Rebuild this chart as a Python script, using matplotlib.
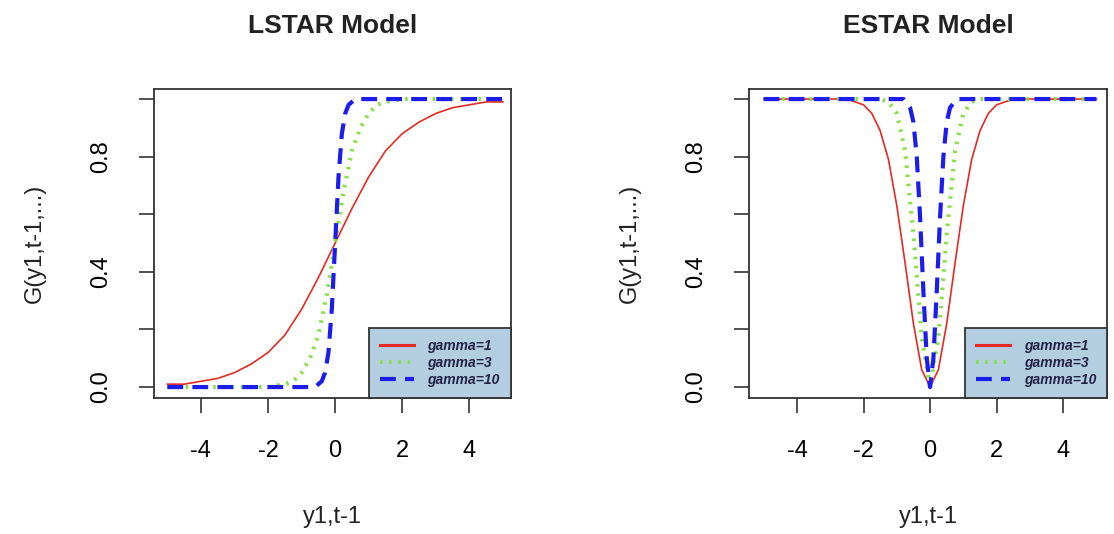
import matplotlib
matplotlib.use('Agg')
import matplotlib.pyplot as plt

plt.rcParams['font.family'] = ['Liberation Sans', 'DejaVu Sans']

# LSTAR curves
ls_x1 = [-5, -4.5, -4, -3.5, -3, -2.5, -2, -1.5, -1, -0.5, 0, 0.5, 1, 1.5, 2, 2.5, 3, 3.5, 4, 4.5, 5]
ls_y1 = [0.01, 0.01, 0.02, 0.03, 0.05, 0.08, 0.12, 0.18, 0.27, 0.38, 0.50, 0.62, 0.73, 0.82, 0.88, 0.92, 0.95, 0.97, 0.98, 0.99, 0.99]
ls_x3 = [-5, -2, -1.5, -1.25, -1, -0.75, -0.5, -0.25, 0, 0.25, 0.5, 0.75, 1, 1.25, 1.5, 2, 5]
ls_y3 = [0.0, 0.0, 0.01, 0.02, 0.05, 0.10, 0.18, 0.32, 0.50, 0.68, 0.82, 0.90, 0.95, 0.98, 0.99, 1.0, 1.0]
ls_x10 = [-5, -0.6, -0.4, -0.3, -0.2, -0.1, 0, 0.1, 0.2, 0.3, 0.4, 0.6, 5]
ls_y10 = [0.0, 0.0, 0.02, 0.05, 0.12, 0.27, 0.50, 0.73, 0.88, 0.95, 0.98, 1.0, 1.0]

# ESTAR curves
es_x1 = [-5, -3, -2.5, -2, -1.75, -1.5, -1.25, -1, -0.75, -0.5, -0.25, 0,
         0.25, 0.5, 0.75, 1, 1.25, 1.5, 1.75, 2, 2.5, 3, 5]
es_y1 = [1.0, 1.0, 1.0, 0.98, 0.95, 0.89, 0.79, 0.63, 0.43, 0.22, 0.06, 0.0,
         0.06, 0.22, 0.43, 0.63, 0.79, 0.89, 0.95, 0.98, 1.0, 1.0, 1.0]
es_x3 = [-5, -1.5, -1.25, -1, -0.75, -0.5, -0.25, 0, 0.25, 0.5, 0.75, 1, 1.25, 1.5, 5]
es_y3 = [1.0, 1.0, 0.99, 0.95, 0.82, 0.53, 0.17, 0.0, 0.17, 0.53, 0.82, 0.95, 0.99, 1.0, 1.0]
es_x10 = [-5, -0.8, -0.6, -0.5, -0.4, -0.3, -0.2, -0.1, 0, 0.1, 0.2, 0.3, 0.4, 0.5, 0.6, 0.8, 5]
es_y10 = [1.0, 1.0, 0.97, 0.92, 0.80, 0.59, 0.33, 0.10, 0.0, 0.10, 0.33, 0.59, 0.80, 0.92, 0.97, 1.0, 1.0]

labels = ['gamma=1', 'gamma=3', 'gamma=10']
titles = ['LSTAR Model', 'ESTAR Model']
xticks = [-4, -2, 0, 2, 4]
yticks = [0, 0.2, 0.4, 0.6, 0.8, 1.0]
yticklabels = ['0.0', '', '0.4', '', '0.8', '']

fig = plt.figure(figsize=(11.14, 5.34), dpi=100)
ax1 = fig.add_axes([0.1382, 0.2547, 0.3205, 0.5787])
ax2 = fig.add_axes([0.6724, 0.2547, 0.3214, 0.5787])

panels = [
    (ax1, [(ls_x1, ls_y1), (ls_x3, ls_y3), (ls_x10, ls_y10)], (-5.4, 5.24)),
    (ax2, [(es_x1, es_y1), (es_x3, es_y3), (es_x10, es_y10)], (-5.44, 5.32)),
]

for i, (ax, curves, xl) in enumerate(panels):
    (x1, y1), (x3, y3), (x10, y10) = curves
    ax.plot(x1, y1, color='#e52a24', lw=1.2, label=labels[0])
    ax.plot(x3, y3, color='#88e048', lw=3, linestyle=(0, (0.6, 1.6)), label=labels[1])
    ax.plot(x10, y10, color='#1c1ced', lw=3, linestyle=(0, (3.8, 2.2)), label=labels[2])
    ax.set_xlim(*xl)
    ax.set_ylim(-0.038, 1.035)
    ax.set_xticks(xticks)
    ax.set_xticklabels([str(t) for t in xticks])
    ax.set_yticks(yticks)
    ax.set_yticklabels(yticklabels, rotation=90, va='center')
    ax.tick_params(labelsize=17, length=11, width=1.2, pad=19, color='#333333')
    for s in ax.spines.values():
        s.set_linewidth(1.3)
        s.set_color('#333333')
    ax.set_title(titles[i], fontsize=19, fontweight='bold', pad=40, color='#222222')
    ax.set_xlabel('y1,t-1', fontsize=17, labelpad=32, color='#222222')
    ax.set_ylabel('G(y1,t-1,...)', fontsize=17, labelpad=32, color='#222222')
    leg = ax.legend(loc='lower right', bbox_to_anchor=(1, 0), borderaxespad=0,
                    fancybox=False, framealpha=1, facecolor='#b3cee0',
                    edgecolor='#333333', prop={'size': 10, 'style': 'italic', 'weight': 'bold'},
                    handlelength=2.4, handletextpad=1.0, labelspacing=0.2, borderpad=0.8)
    leg.get_frame().set_linewidth(1.3)
    leg.legend_handles[0].set_linewidth(2.2)
    for t in leg.get_texts():
        t.set_color('#222244')

fig.savefig('out.png', dpi=100)
